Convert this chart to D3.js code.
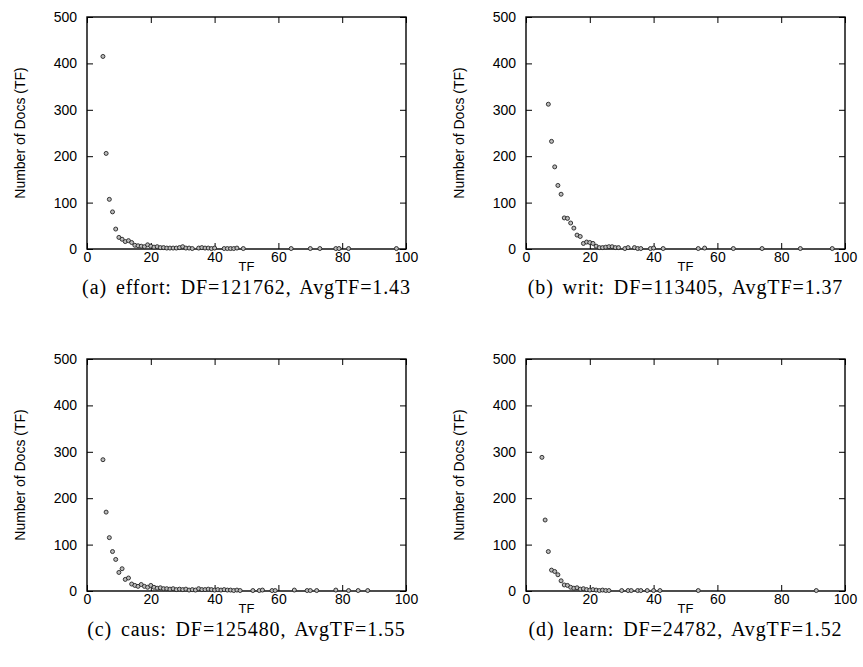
<!DOCTYPE html>
<html>
<head>
<meta charset="utf-8">
<script src="https://cdn.jsdelivr.net/npm/d3@7"></script>
<style>
  body { margin: 0; background: #fff; }
  svg { display: block; }
</style>
</head>
<body>
<svg width="863" height="667"></svg>
<script>
// term frequency distributions, one pair of arrays per term
let effortTF   = [5, 6, 7, 8, 9, 10, 11, 12, 13, 14, 15, 16, 17, 18, 19, 20, 21, 22, 23, 24, 25, 26, 27, 28, 29, 30, 31, 32, 33, 35, 36, 37, 38, 39, 40, 43, 44, 45, 46, 47, 49, 64, 70, 73, 78, 79, 82, 97];
let effortDocs = [415, 206, 107, 80, 43, 25, 21, 16, 18, 14, 8, 7, 6, 5, 9, 6, 4, 5, 3, 3, 2, 2, 2, 2, 3, 5, 2, 2, 1, 2, 3, 2, 2, 1, 2, 1, 1, 1, 1, 2, 1, 1, 1, 1, 1, 1, 1, 1];

let writTF   = [7, 8, 9, 10, 11, 12, 13, 14, 15, 16, 17, 18, 19, 20, 21, 22, 23, 24, 25, 26, 27, 28, 29, 31, 32, 34, 35, 36, 39, 40, 43, 54, 56, 65, 74, 86, 96];
let writDocs = [312, 232, 177, 137, 118, 67, 66, 56, 45, 30, 27, 12, 15, 14, 12, 6, 3, 3, 4, 5, 5, 3, 3, 1, 3, 3, 1, 1, 1, 2, 1, 1, 2, 1, 1, 1, 1];

let causTF   = [5, 6, 7, 8, 9, 10, 11, 12, 13, 14, 15, 16, 17, 18, 19, 20, 21, 22, 23, 24, 25, 26, 27, 28, 29, 30, 31, 32, 33, 34, 35, 36, 37, 38, 39, 40, 41, 42, 43, 44, 45, 46, 47, 48, 52, 54, 55, 58, 59, 65, 69, 70, 72, 78, 82, 85, 88];
let causDocs = [283, 170, 115, 85, 68, 40, 48, 25, 28, 15, 12, 10, 14, 10, 8, 12, 8, 6, 7, 5, 5, 4, 5, 3, 4, 3, 4, 2, 3, 2, 5, 3, 3, 4, 3, 2, 3, 2, 3, 2, 2, 1, 2, 1, 1, 1, 2, 1, 1, 2, 1, 1, 1, 2, 1, 1, 1];

let learnTF   = [5, 6, 7, 8, 9, 10, 11, 12, 13, 14, 15, 16, 17, 18, 19, 20, 21, 22, 23, 24, 25, 26, 30, 32, 33, 35, 36, 38, 40, 42, 54, 91];
let learnDocs = [288, 153, 85, 45, 42, 35, 22, 13, 12, 8, 6, 7, 4, 5, 3, 2, 3, 2, 1, 2, 1, 1, 1, 1, 1, 1, 1, 1, 1, 1, 1, 1];

let panelLabels = ["(a)", "(b)", "(c)", "(d)"];
let terms = ["effort", "writ", "caus", "learn"];
let dfValues = [121762, 113405, 125480, 24782];
let avgTF = [1.43, 1.37, 1.55, 1.52];
let xTicks = [0, 20, 40, 60, 80, 100];
let yTicks = [0, 100, 200, 300, 400, 500];

let series = [
    [effortTF, effortDocs],
    [writTF, writDocs],
    [causTF, causDocs],
    [learnTF, learnDocs]
];

// plot frame corners
let origins = [[87, 17], [526, 17], [87, 359], [526, 359]];
let width = 319, height = 232;

let x = d3.scaleLinear([0, 100], [0, width]);
let y = d3.scaleLinear([0, 500], [height, 0]);

let svg = d3.select("svg");
let sans = "'Liberation Sans', Arial, Helvetica, sans-serif";

series.forEach(([tf, docs], i) => {
    const [left, top] = origins[i];
    const g = svg.append("g").attr("transform", `translate(${left},${top})`);

    const tidy = a => a.call(s => s.select(".domain").remove())
        .call(s => s.selectAll("line").attr("stroke", "#000"))
        .attr("font-family", sans)
        .attr("font-size", 14);

    g.append("g")
        .attr("transform", `translate(0,${height})`)
        .call(d3.axisBottom(x).tickValues(xTicks).tickFormat(d3.format("d")).tickSize(-6).tickPadding(3))
        .call(tidy);
    g.append("g")
        .call(d3.axisTop(x).tickValues(xTicks).tickFormat("").tickSize(-6))
        .call(tidy);
    g.append("g")
        .call(d3.axisLeft(y).tickValues(yTicks).tickFormat(d3.format("d")).tickSize(-6).tickPadding(10))
        .call(tidy);
    g.append("g")
        .attr("transform", `translate(${width},0)`)
        .call(d3.axisRight(y).tickValues(yTicks).tickFormat("").tickSize(-6))
        .call(tidy);

    g.selectAll("text").attr("fill", "#000");

    g.append("rect")
        .attr("width", width)
        .attr("height", height)
        .attr("fill", "none")
        .attr("stroke", "#000")
        .attr("stroke-width", 1.4);

    g.append("g")
        .selectAll("circle")
        .data(d3.zip(tf, docs))
        .join("circle")
        .attr("cx", d => x(d[0]))
        .attr("cy", d => y(d[1]))
        .attr("r", 2)
        .attr("fill", "#bbb")
        .attr("stroke", "#222")
        .attr("stroke-width", 0.9);

    g.append("text")
        .attr("transform", `translate(-62,${height / 2}) rotate(-90)`)
        .attr("text-anchor", "middle")
        .attr("font-family", sans)
        .attr("font-size", 14)
        .text("Number of Docs (TF)");

    g.append("text")
        .attr("x", width / 2)
        .attr("y", height + 22)
        .attr("text-anchor", "middle")
        .attr("font-family", sans)
        .attr("font-size", 13)
        .text("TF");

    g.append("text")
        .attr("x", width / 2)
        .attr("y", height + 45)
        .attr("text-anchor", "middle")
        .attr("font-family", "'Liberation Serif', 'Times New Roman', serif")
        .attr("font-size", 20)
        .attr("letter-spacing", 0.9)
        .attr("word-spacing", 3)
        .text(`${panelLabels[i]} ${terms[i]}: DF=${dfValues[i]}, AvgTF=${avgTF[i]}`);
});
</script>
</body>
</html>
